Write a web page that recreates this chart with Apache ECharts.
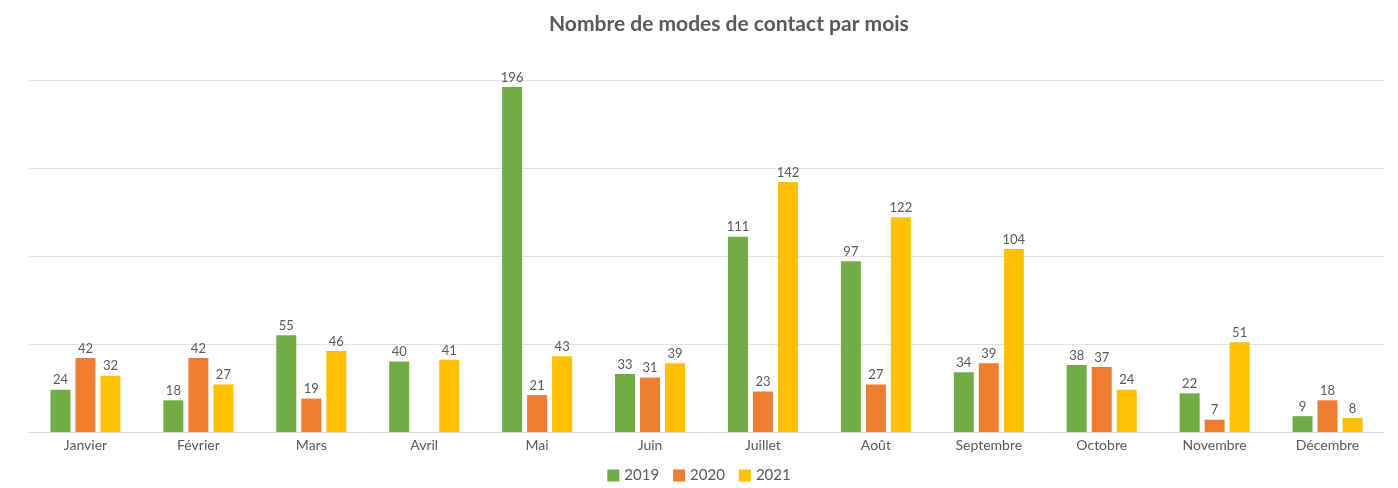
<!DOCTYPE html>
<html>
<head>
<meta charset="utf-8">
<script src="https://cdn.jsdelivr.net/npm/echarts@6/dist/echarts.min.js"></script>
<style>
  html, body { margin: 0; padding: 0; background: #fff; }
  #chart { width: 1398px; height: 488px; }
</style>
</head>
<body>
<div id="chart"></div>
<script>
// mois
var months = ['Janvier', 'Février', 'Mars', 'Avril', 'Mai', 'Juin', 'Juillet', 'Août', 'Septembre', 'Octobre', 'Novembre', 'Décembre'];
var data2019 = [24, 18, 55, 40, 196, 33, 111, 97, 34, 38, 22, 9];
var data2020 = [42, 42, 19, null, 21, 31, 23, 27, 39, 37, 7, 18];
var data2021 = [32, 27, 46, 41, 43, 39, 142, 122, 104, 24, 51, 8];
var colors = ['#70AD47', '#ED7D31', '#FFC000'];

var myChart = echarts.init(document.getElementById('chart'));

function makeSeries(name, data, color){
    return {
        name: name,
        type: 'bar',
        data: data,
        barWidth: 20,
        barGap: '25%',
        itemStyle: { color: color },
        label: {
            show: true,
            position: 'top',
            distance: 3,
            color: '#595959',
            fontSize: 13,
            fontFamily: 'Lato'
        }
    };
}

var option = {
    textStyle: { fontFamily: 'Lato' },
    title: {
        text: 'Nombre de modes de contact par mois',
        left: 544,
        top: 9,
        textStyle: { color: '#595959', fontSize: 21, fontWeight: 'bold', fontFamily: 'Lato' }
    },
    legend: {
        bottom: 0,
        left: 'center',
        itemWidth: 12,
        itemHeight: 12,
        itemGap: 14,
        icon: 'rect',
        textStyle: { color: '#595959', fontSize: 15 },
        data: ['2019', '2020', '2021']
    },
    grid: { left: 29, right: 14, top: 80, bottom: 56 },
    xAxis: {
        type: 'category',
        data: months,
        axisTick: { show: false },
        axisLine: { lineStyle: { color: '#d9d9d9', width: 1 } },
        axisLabel: { color: '#595959', fontSize: 14, margin: 6 }
    },
    yAxis: {
        type: 'value',
        min: 0,
        max: 200,
        interval: 50,
        axisLabel: { show: false },
        axisLine: { show: false },
        axisTick: { show: false },
        splitLine: { lineStyle: { color: '#e3e3e3' } }
    },
    series: [
        makeSeries('2019', data2019, colors[0]),
        makeSeries('2020', data2020, colors[1]),
        makeSeries('2021', data2021, colors[2])
    ]
};

myChart.setOption(option);
</script>
</body>
</html>
